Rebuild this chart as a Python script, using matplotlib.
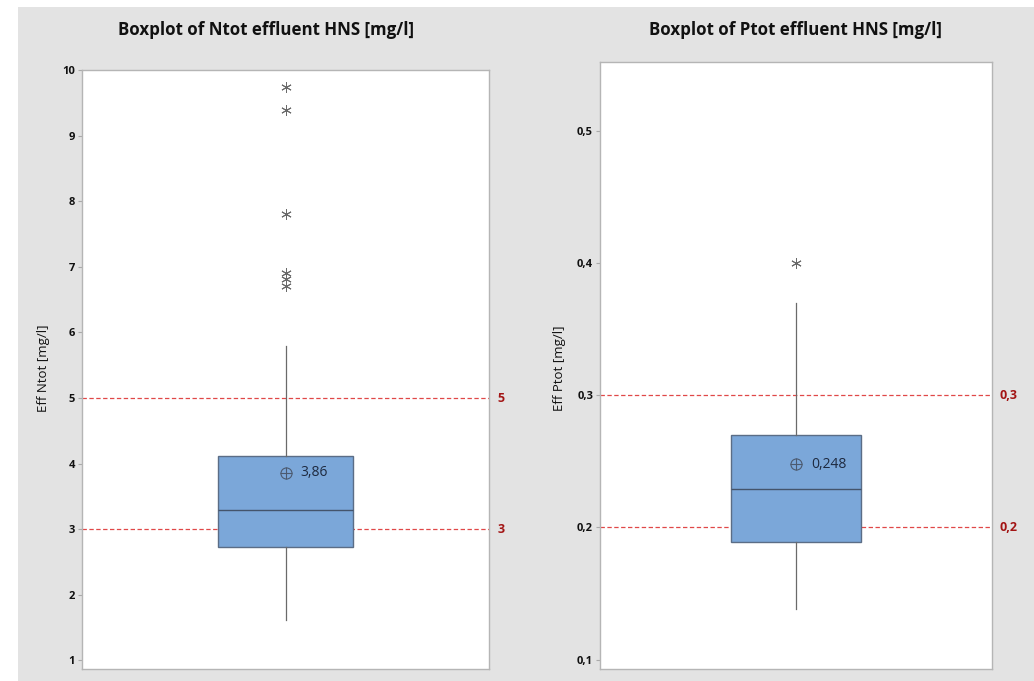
import matplotlib.pyplot as plt
import matplotlib.transforms as mtransforms
from matplotlib.patches import Rectangle
from matplotlib.ticker import FuncFormatter

# box statistics
titles = ["Boxplot of Ntot effluent HNS [mg/l]", "Boxplot of Ptot effluent HNS [mg/l]"]
ylabels = ["Eff Ntot [mg/l]", "Eff Ptot [mg/l]"]
q1 = [2.73, 0.189]
median = [3.30, 0.229]
q3 = [4.12, 0.270]
whislo = [1.62, 0.138]
whishi = [5.79, 0.370]
means = [3.86, 0.248]
mean_labels = ["3,86", "0,248"]
fliers = [[9.74, 9.39, 7.80, 6.91, 6.82, 6.71], [0.40]]
ref_lines = [[5, 3], [0.3, 0.2]]
ref_labels = [["5", "3"], ["0,3", "0,2"]]
yticks = [[1, 2, 3, 4, 5, 6, 7, 8, 9, 10], [0.1, 0.2, 0.3, 0.4, 0.5]]
ylims = [(0.87, 10.0), (0.093, 0.552)]

plt.rcParams['font.family'] = ['Open Sans', 'DejaVu Sans']

fig = plt.figure(figsize=(10.34, 6.81), dpi=100, facecolor='white')
bg = Rectangle((18 / 1034, 0), 1, 1 - 7 / 681, transform=fig.transFigure,
               facecolor='#e3e3e3', edgecolor='none', zorder=-10)
fig.patches.append(bg)

axes_pos = [[82 / 1034, 1 - 669 / 681, 407 / 1034, 599 / 681],
            [600 / 1034, 1 - 669 / 681, 392 / 1034, 607 / 681]]
title_x = [266 / 1034, 795 / 1034]
ylabel_x = [43 / 1034, 560 / 1034]

def comma_fmt(v, pos):
    s = ('%g' % round(v, 3))
    return s.replace('.', ',')

for i in range(2):
    ax = fig.add_axes(axes_pos[i])
    ax.set_zorder(1)
    ax.set_facecolor('white')
    stats = [dict(q1=q1[i], med=median[i], q3=q3[i], whislo=whislo[i], whishi=whishi[i],
                  mean=means[i], fliers=fliers[i])]
    ax.bxp(stats, positions=[0], widths=0.334, patch_artist=True, showcaps=False,
           showmeans=False,
           boxprops=dict(facecolor='#7ba7d9', edgecolor='#5b6d86', linewidth=1.0),
           medianprops=dict(color='#44546c', linewidth=1.0),
           whiskerprops=dict(color='#6a6a6a', linewidth=0.9),
           flierprops=dict(marker=(6, 2, 0), markersize=7.5, markeredgecolor='#6a6a6a',
                           markeredgewidth=0.7, linestyle='none'))
    # mean symbol
    ax.plot([0], [means[i]], marker='o', markersize=8, markerfacecolor='none',
            markeredgecolor='#4c5a70', markeredgewidth=0.8, zorder=5)
    ax.plot([0], [means[i]], marker='+', markersize=8, markeredgecolor='#4c5a70',
            markeredgewidth=0.8, zorder=5)
    ax.annotate(mean_labels[i], (0, means[i]), xytext=(11, 0), textcoords='offset points',
                va='center', ha='left', fontsize=10, color='#1e2a40', zorder=6)

    trans = mtransforms.blended_transform_factory(ax.transAxes, ax.transData)
    for y, lab in zip(ref_lines[i], ref_labels[i]):
        ax.axhline(y, color='#e04848', linestyle=(0, (3.5, 2)), linewidth=0.9, zorder=1)
        ax.text(1.02, y, lab, transform=trans, va='center', ha='left', fontsize=9,
                color='#a31515', fontweight='bold', clip_on=False)

    ax.set_xlim(-0.5, 0.5)
    ax.set_ylim(*ylims[i])
    ax.set_xticks([])
    ax.set_yticks(yticks[i])
    ax.yaxis.set_major_formatter(FuncFormatter(comma_fmt))
    ax.tick_params(axis='y', length=3, width=0.8, color='#aaaaaa', labelsize=8,
                   labelcolor='#111111', pad=2)
    for lab in ax.get_yticklabels():
        lab.set_fontweight('bold')
    for sp in ax.spines.values():
        sp.set_color('#b5b5b5')
        sp.set_linewidth(1.0)

    fig.text(title_x[i], 1 - 30 / 681, titles[i], ha='center', va='center', fontsize=12.2,
             fontweight='bold', color='#111111')
    fig.text(ylabel_x[i], 1 - 368 / 681, ylabels[i], ha='center', va='center', fontsize=9.5,
             rotation=90, color='#111111')

fig.savefig('out.png', dpi=100, facecolor=fig.get_facecolor())
